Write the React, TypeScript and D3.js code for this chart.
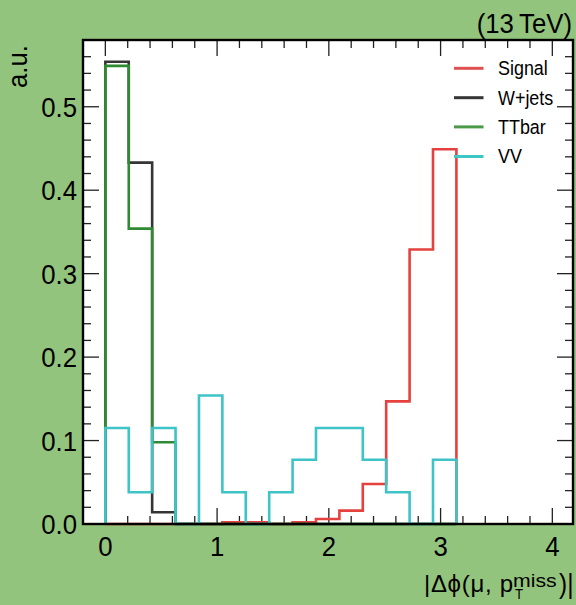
import React from "react";
import * as d3 from "d3";

const W = 576;
const H = 605;

const nBins = 15;
const binLo = 0;
const binHi = Math.PI;

const seriesNames = ["Signal", "W+jets", "TTbar", "VV"];
const seriesColors = ["#e4413f", "#353535", "#2f8a34", "#3ec3c6"];
const legendColors = ["#e05050", "#353535", "#4a9a4a", "#3ec6c6"];

const signal = [0, 0, 0, 0, 0, 0.002, 0.002, 0, 0.002, 0.006, 0.016, 0.048, 0.147, 0.329, 0.449];
const wjets = [0.554, 0.433, 0.014, 0, 0, 0, 0, 0, 0, 0, 0, 0, 0, 0, 0];
const ttbar = [0.549, 0.354, 0.098, 0, 0, 0, 0, 0, 0, 0, 0, 0, 0, 0, 0];
const vv = [0.115, 0.038, 0.115, 0, 0.154, 0.038, 0, 0.038, 0.077, 0.115, 0.115, 0.077, 0.038, 0, 0.077];

const xMajorTicks = [0, 1, 2, 3, 4];
const yMajorTicks = [0, 0.1, 0.2, 0.3, 0.4, 0.5];
const yTickLabels = ["0.0", "0.1", "0.2", "0.3", "0.4", "0.5"];

const left = 83;
const right = 573;
const top = 40;
const bottom = 524;

const x = d3.scaleLinear().domain([-0.2, 4.185]).range([left, right]);
const y = d3.scaleLinear().domain([0, 0.58]).range([bottom, top]);

const FONT = "'Liberation Sans', Arial, Helvetica, sans-serif";
const SX = 0.92;

function histPath(values: number[]): string {
  const w = (binHi - binLo) / nBins;
  const pts: [number, number][] = [[binLo, 0]];
  values.forEach((v, i) => {
    pts.push([binLo + i * w, v]);
    pts.push([binLo + (i + 1) * w, v]);
  });
  pts.push([binHi, 0]);
  const line = d3
    .line<[number, number]>()
    .x((d) => x(d[0]))
    .y((d) => y(d[1]));
  return line(pts) || "";
}

function T(props: {
  x: number;
  y: number;
  size: number;
  anchor?: string;
  rotate?: number;
  sx?: number;
  len?: number;
  children: React.ReactNode;
}) {
  const { rotate = 0, sx = SX } = props;
  return (
    <text
      transform={`translate(${props.x},${props.y}) rotate(${rotate}) scale(${sx},1)`}
      fontFamily={FONT}
      fontSize={props.size}
      textAnchor={props.anchor || "start"}
      fill="#000"
      textLength={props.len}
      lengthAdjust={props.len ? "spacing" : undefined}
    >
      {props.children}
    </text>
  );
}

export default function App() {
  const allSeries = [signal, wjets, ttbar, vv];

  const xMinor: number[] = [];
  for (let i = -1; i <= 21; i++) {
    const v = i * 0.2;
    if (v <= -0.2 + 1e-6 || v > 4.18) continue;
    if (Math.abs(v - Math.round(v)) < 1e-6) continue;
    xMinor.push(v);
  }
  const yMinor: number[] = [];
  for (let i = 1; i <= 29; i++) {
    const v = i * 0.02;
    if (v > 0.579) continue;
    if (Math.abs(v * 10 - Math.round(v * 10)) < 1e-6) continue;
    yMinor.push(v);
  }

  const major = 16;
  const minor = 8;
  const legendY = [68.3, 97.7, 126.9, 156.5];

  return (
    <svg
      width={W}
      height={H}
      style={{ position: "absolute", left: 0, top: 0, display: "block" }}
    >
      <rect x={0} y={0} width={W} height={H} fill="#93c47d" />
      <rect x={left} y={top} width={right - left} height={bottom - top} fill="#ffffff" />

      {/* ticks */}
      <g stroke="#222" strokeWidth={1.3}>
        {xMajorTicks.map((v) => (
          <g key={"xM" + v}>
            <line x1={x(v)} x2={x(v)} y1={bottom} y2={bottom - major} />
            <line x1={x(v)} x2={x(v)} y1={top} y2={top + major} />
          </g>
        ))}
        {xMinor.map((v) => (
          <g key={"xm" + v}>
            <line x1={x(v)} x2={x(v)} y1={bottom} y2={bottom - minor} />
            <line x1={x(v)} x2={x(v)} y1={top} y2={top + minor} />
          </g>
        ))}
        {yMajorTicks.map((v) => (
          <g key={"yM" + v}>
            <line x1={left} x2={left + major} y1={y(v)} y2={y(v)} />
            <line x1={right} x2={right - major} y1={y(v)} y2={y(v)} />
          </g>
        ))}
        {yMinor.map((v) => (
          <g key={"ym" + v}>
            <line x1={left} x2={left + minor} y1={y(v)} y2={y(v)} />
            <line x1={right} x2={right - minor} y1={y(v)} y2={y(v)} />
          </g>
        ))}
      </g>

      {/* histograms */}
      {allSeries.map((s, i) => (
        <path
          key={seriesNames[i]}
          d={histPath(s)}
          fill="none"
          stroke={seriesColors[i]}
          strokeWidth={2.6}
          strokeLinejoin="miter"
        />
      ))}

      {/* frame */}
      <rect
        x={left}
        y={top}
        width={right - left}
        height={bottom - top}
        fill="none"
        stroke="#000"
        strokeWidth={2.4}
      />

      {/* legend */}
      {seriesNames.map((n, i) => (
        <g key={"leg" + n}>
          <line
            x1={454}
            x2={483.5}
            y1={legendY[i]}
            y2={legendY[i]}
            stroke={legendColors[i]}
            strokeWidth={3}
          />
          <T x={498} y={legendY[i] + 6.8} size={19.5}>
            {n}
          </T>
        </g>
      ))}

      {/* tick labels */}
      {xMajorTicks.map((v) => (
        <T key={"xl" + v} x={x(v)} y={556} size={28} anchor="middle">
          {String(v)}
        </T>
      ))}
      {yMajorTicks.map((v, i) => (
        <T key={"yl" + v} x={77} y={y(v) + 10} size={28} anchor="end">
          {yTickLabels[i]}
        </T>
      ))}

      {/* axis titles */}
      <T x={27} y={45} size={28} anchor="end" rotate={-90}>
        a.u.
      </T>
      <T x={572} y={33} size={28} anchor="end">
        (13{"\u2009"}TeV)
      </T>

      {/* x title: |Δφ(μ, p_T^miss)| */}
      <T x={424} y={592} size={24} sx={1} len={89}>
        {"|\u0394\u03d5(\u03bc, p"}
      </T>
      <T x={515} y={598.5} size={14} sx={0.95}>
        T
      </T>
      <T x={513} y={586.5} size={18} sx={1.18}>
        miss
      </T>
      <T x={573.5} y={593} size={27} anchor="end" sx={0.9}>
        )|
      </T>
    </svg>
  );
}
